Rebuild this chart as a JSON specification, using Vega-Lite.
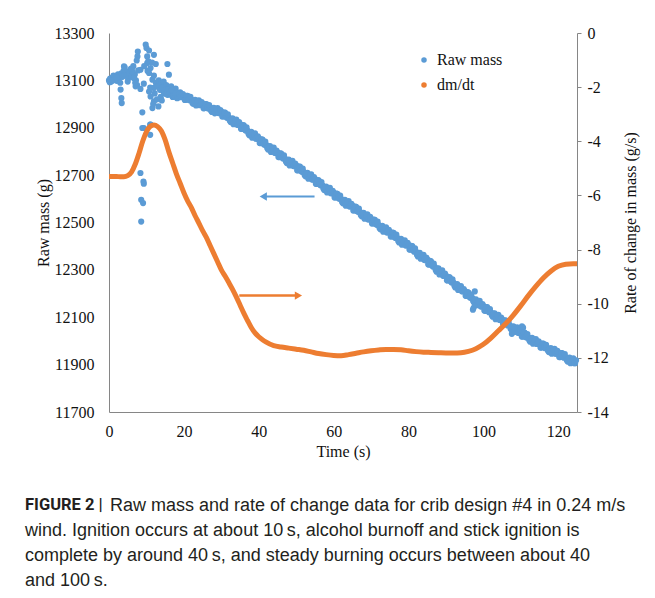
{
  "$schema": "https://vega.github.io/schema/vega-lite/v6.json",
  "width": 468,
  "height": 379,
  "autosize": {"type": "none"},
  "padding": {"left": 109, "top": 33, "right": 78, "bottom": 186},
  "background": "white",
  "config": {
    "view": {"stroke": null},
    "axis": {
      "labelFont": "Liberation Serif", "labelFontSize": 16, "labelColor": "#111",
      "titleFont": "Liberation Serif", "titleFontSize": 16, "titleFontWeight": "normal", "titleColor": "#111",
      "domainColor": "#868686", "tickColor": "#868686", "grid": false
    }
  },
  "title": {
    "text": "FIGURE 2 |",
    "subtitle": [
      "\u200b\u00a0\u00a0\u00a0\u00a0\u00a0\u00a0\u00a0\u00a0\u00a0\u00a0\u00a0\u00a0\u00a0\u00a0\u00a0\u00a0\u00a0Raw mass and rate of change data for crib design #4 in 0.24 m/s",
      "wind. Ignition occurs at about 10\u2009s, alcohol burnoff and stick ignition is",
      "complete by around 40\u2009s, and steady burning occurs between about 40",
      "and 100\u2009s."
    ],
    "orient": "bottom", "anchor": "start", "frame": "group", "dx": -84, "offset": 38,
    "font": "Roboto", "fontSize": 16.5, "fontWeight": "bold", "color": "#231f20",
    "subtitleFont": "Liberation Sans", "subtitleFontSize": 18, "subtitleFontWeight": "normal",
    "subtitleColor": "#231f20", "subtitleLineHeight": 25, "subtitlePadding": -17
  },
  "datasets": {
    "mass": [
      {"t":0,"m":13100},{"t":0.3,"m":13108},{"t":0.6,"m":13095},{"t":0.9,"m":13112},{"t":1.2,"m":13120},{"t":1.5,"m":13105},{"t":1.8,"m":13117},{"t":2.1,"m":13098},{"t":2.4,"m":13125},{"t":2.7,"m":13110},{"t":3.0,"m":13090},{"t":3.3,"m":13130},{"t":3.6,"m":13115},{"t":3.9,"m":13140},{"t":4.2,"m":13155},{"t":4.5,"m":13138},{"t":4.8,"m":13122},{"t":5.1,"m":13108},{"t":5.4,"m":13128},{"t":5.7,"m":13145},{"t":6.0,"m":13118},{"t":6.3,"m":13135},{"t":6.6,"m":13110},{"t":6.9,"m":13125},{"t":7.2,"m":13100},{"t":7.5,"m":13080},{"t":7.8,"m":13142},
      {"t":0.2,"m":13092},{"t":1.0,"m":13100},{"t":2.0,"m":13112},{"t":3.1,"m":13061},{"t":3.3,"m":13025},{"t":3.4,"m":13004},{"t":4.0,"m":13159},{"t":6.2,"m":13138},{"t":6.7,"m":13110},{"t":7.1,"m":13075},{"t":8.4,"m":13064},{"t":5.0,"m":13095},
      {"t":9.8,"m":13251},{"t":10.0,"m":13237},{"t":7.7,"m":13222},{"t":10.7,"m":13226},{"t":12.0,"m":13208},{"t":7.6,"m":13201},{"t":10.2,"m":13201},{"t":7.4,"m":13184},{"t":15.6,"m":13169},{"t":12.5,"m":13169},{"t":10.2,"m":13173},{"t":11.1,"m":13152},{"t":8.4,"m":13145},{"t":10.7,"m":13131},{"t":16.0,"m":13124},{"t":11.6,"m":13103},{"t":9.3,"m":13086},{"t":12.9,"m":13082},{"t":12.0,"m":13068},{"t":10.7,"m":13053},{"t":13.8,"m":13061},{"t":14.7,"m":13047},{"t":11.1,"m":13032},{"t":15.6,"m":13039},{"t":12.0,"m":13011},{"t":11.6,"m":12983},{"t":13.8,"m":13025},{"t":8.9,"m":12965},{"t":9.3,"m":12899},{"t":11.0,"m":12913},{"t":8.9,"m":12899},{"t":11.1,"m":12913},{"t":11.0,"m":12870},
      {"t":8.4,"m":12709},{"t":9.2,"m":12673},{"t":9.3,"m":12664},{"t":8.6,"m":12596},{"t":9.1,"m":12582},{"t":8.6,"m":12504},
      {"t":12.5,"m":13090},{"t":13.0,"m":13075},{"t":13.3,"m":13100},{"t":13.6,"m":13060},{"t":14.0,"m":13085},{"t":14.3,"m":13070},{"t":14.6,"m":13095},{"t":14.9,"m":13050},{"t":15.3,"m":13080},{"t":15.8,"m":13070},{"t":16.2,"m":13040},{"t":16.6,"m":13075},{"t":17.2,"m":13060},{"t":17.8,"m":13065},{"t":18.2,"m":13025},{"t":12.2,"m":13045},{"t":13.8,"m":13030},{"t":12.8,"m":13020},{"t":11.8,"m":13000},{"t":13.2,"m":12990},{"t":14.1,"m":13015},{"t":17.0,"m":13030},{"t":10.5,"m":13180},{"t":11.5,"m":13175},{"t":9.4,"m":13160},{"t":10.3,"m":13140},{"t":6.5,"m":13160},{"t":5.9,"m":13150},{"t":7.0,"m":13090},{"t":11,"m":13070},{"t":12,"m":13120},
      {"t":15.0,"m":13061},{"t":15.5,"m":13044},{"t":16.0,"m":13062},{"t":16.5,"m":13044},{"t":17.0,"m":13047},{"t":17.5,"m":13031},{"t":18.0,"m":13049},{"t":18.5,"m":13032},{"t":19.0,"m":13049},{"t":19.5,"m":13030},
      {"t":20.0,"m":13036},{"t":20.5,"m":13018},{"t":21.0,"m":13035},{"t":21.5,"m":13016},{"t":22.0,"m":13018},{"t":22.5,"m":13001},{"t":23.0,"m":13018},{"t":23.5,"m":13000},{"t":24.0,"m":13016},{"t":24.5,"m":12996},
      {"t":25.0,"m":13001},{"t":25.5,"m":12983},{"t":26.0,"m":13000},{"t":26.5,"m":12981},{"t":27.0,"m":12984},{"t":27.5,"m":12967},{"t":28.0,"m":12984},{"t":28.5,"m":12966},{"t":29.0,"m":12983},{"t":29.5,"m":12962},
      {"t":30.0,"m":12968},{"t":30.5,"m":12948},{"t":31.0,"m":12964},{"t":31.5,"m":12942},{"t":32.0,"m":12943},{"t":32.5,"m":12924},{"t":33.0,"m":12940},{"t":33.5,"m":12920},{"t":34.0,"m":12934},{"t":34.5,"m":12912},
      {"t":35.0,"m":12916},{"t":35.5,"m":12895},{"t":36.0,"m":12910},{"t":36.5,"m":12888},{"t":37.0,"m":12888},{"t":37.5,"m":12868},{"t":38.0,"m":12883},{"t":38.5,"m":12862},{"t":39.0,"m":12876},{"t":39.5,"m":12853},
      {"t":40.0,"m":12856},{"t":40.5,"m":12835},{"t":41.0,"m":12850},{"t":41.5,"m":12828},{"t":42.0,"m":12828},{"t":42.5,"m":12808},{"t":43.0,"m":12823},{"t":43.5,"m":12802},{"t":44.0,"m":12816},{"t":44.5,"m":12793},
      {"t":45.0,"m":12796},{"t":45.5,"m":12776},{"t":46.0,"m":12791},{"t":46.5,"m":12770},{"t":47.0,"m":12770},{"t":47.5,"m":12751},{"t":48.0,"m":12766},{"t":48.5,"m":12746},{"t":49.0,"m":12760},{"t":49.5,"m":12738},
      {"t":50.0,"m":12741},{"t":50.5,"m":12720},{"t":51.0,"m":12736},{"t":51.5,"m":12714},{"t":52.0,"m":12714},{"t":52.5,"m":12695},{"t":53.0,"m":12710},{"t":53.5,"m":12689},{"t":54.0,"m":12703},{"t":54.5,"m":12681},
      {"t":55.0,"m":12684},{"t":55.5,"m":12663},{"t":56.0,"m":12678},{"t":56.5,"m":12657},{"t":57.0,"m":12657},{"t":57.5,"m":12637},{"t":58.0,"m":12652},{"t":58.5,"m":12631},{"t":59.0,"m":12646},{"t":59.5,"m":12623},
      {"t":60.0,"m":12626},{"t":60.5,"m":12606},{"t":61.0,"m":12621},{"t":61.5,"m":12600},{"t":62.0,"m":12600},{"t":62.5,"m":12581},{"t":63.0,"m":12596},{"t":63.5,"m":12576},{"t":64.0,"m":12590},{"t":64.5,"m":12568},
      {"t":65.0,"m":12571},{"t":65.5,"m":12551},{"t":66.0,"m":12566},{"t":66.5,"m":12545},{"t":67.0,"m":12545},{"t":67.5,"m":12526},{"t":68.0,"m":12541},{"t":68.5,"m":12521},{"t":69.0,"m":12535},{"t":69.5,"m":12513},
      {"t":70.0,"m":12516},{"t":70.5,"m":12496},{"t":71.0,"m":12511},{"t":71.5,"m":12490},{"t":72.0,"m":12490},{"t":72.5,"m":12471},{"t":73.0,"m":12486},{"t":73.5,"m":12466},{"t":74.0,"m":12480},{"t":74.5,"m":12458},
      {"t":75.0,"m":12461},{"t":75.5,"m":12441},{"t":76.0,"m":12456},{"t":76.5,"m":12435},{"t":77.0,"m":12435},{"t":77.5,"m":12416},{"t":78.0,"m":12431},{"t":78.5,"m":12411},{"t":79.0,"m":12425},{"t":79.5,"m":12403},
      {"t":80.0,"m":12406},{"t":80.5,"m":12385},{"t":81.0,"m":12400},{"t":81.5,"m":12377},{"t":82.0,"m":12377},{"t":82.5,"m":12357},{"t":83.0,"m":12372},{"t":83.5,"m":12351},{"t":84.0,"m":12364},{"t":84.5,"m":12341},
      {"t":85.0,"m":12344},{"t":85.5,"m":12322},{"t":86.0,"m":12336},{"t":86.5,"m":12314},{"t":87.0,"m":12313},{"t":87.5,"m":12292},{"t":88.0,"m":12306},{"t":88.5,"m":12284},{"t":89.0,"m":12298},{"t":89.5,"m":12274},
      {"t":90.0,"m":12276},{"t":90.5,"m":12255},{"t":91.0,"m":12269},{"t":91.5,"m":12247},{"t":92.0,"m":12246},{"t":92.5,"m":12226},{"t":93.0,"m":12240},{"t":93.5,"m":12219},{"t":94.0,"m":12232},{"t":94.5,"m":12209},
      {"t":95.0,"m":12211},{"t":95.5,"m":12190},{"t":96.0,"m":12204},{"t":96.5,"m":12182},{"t":97.0,"m":12182},{"t":97.5,"m":12162},{"t":98.0,"m":12176},{"t":98.5,"m":12155},{"t":99.0,"m":12169},{"t":99.5,"m":12145},
      {"t":100.0,"m":12148},{"t":100.5,"m":12127},{"t":101.0,"m":12143},{"t":101.5,"m":12121},{"t":102.0,"m":12121},{"t":102.5,"m":12102},{"t":103.0,"m":12117},{"t":103.5,"m":12096},{"t":104.0,"m":12110},{"t":104.5,"m":12088},
      {"t":105.0,"m":12091},{"t":105.5,"m":12071},{"t":106.0,"m":12086},{"t":106.5,"m":12065},{"t":107.0,"m":12066},{"t":107.5,"m":12047},{"t":108.0,"m":12062},{"t":108.5,"m":12042},{"t":109.0,"m":12057},{"t":109.5,"m":12034},
      {"t":110.0,"m":12038},{"t":110.5,"m":12018},{"t":111.0,"m":12035},{"t":111.5,"m":12014},{"t":112.0,"m":12015},{"t":112.5,"m":11997},{"t":113.0,"m":12013},{"t":113.5,"m":11993},{"t":114.0,"m":12008},{"t":114.5,"m":11987},
      {"t":115.0,"m":11991},{"t":115.5,"m":11972},{"t":116.0,"m":11989},{"t":116.5,"m":11969},{"t":117.0,"m":11971},{"t":117.5,"m":11953},{"t":118.0,"m":11970},{"t":118.5,"m":11951},{"t":119.0,"m":11967},{"t":119.5,"m":11946},
      {"t":120.0,"m":11951},{"t":120.5,"m":11932},{"t":121.0,"m":11949},{"t":121.5,"m":11929},{"t":122.0,"m":11931},{"t":122.5,"m":11913},{"t":123.0,"m":11930},{"t":123.5,"m":11911},{"t":124.0,"m":11927},{"t":124.5,"m":11906},
      {"t":97.2,"m":12132},{"t":97.4,"m":12140},{"t":97.7,"m":12209},{"t":107.6,"m":12030},{"t":110.3,"m":12062},{"t":110.6,"m":12056},
      {"t":15.25,"m":13043},{"t":15.75,"m":13061},{"t":16.25,"m":13047},{"t":16.75,"m":13059},{"t":17.25,"m":13036},{"t":17.75,"m":13045},{"t":18.25,"m":13026},{"t":18.75,"m":13043},{"t":19.25,"m":13029},{"t":19.75,"m":13042},
      {"t":20.25,"m":13017},{"t":20.75,"m":13035},{"t":21.25,"m":13019},{"t":21.75,"m":13031},{"t":22.25,"m":13006},{"t":22.75,"m":13015},{"t":23.25,"m":12994},{"t":23.75,"m":13011},{"t":24.25,"m":12995},{"t":24.75,"m":13008},
      {"t":25.25,"m":12982},{"t":25.75,"m":13000},{"t":26.25,"m":12985},{"t":26.75,"m":12996},{"t":27.25,"m":12972},{"t":27.75,"m":12981},{"t":28.25,"m":12961},{"t":28.75,"m":12977},{"t":29.25,"m":12962},{"t":29.75,"m":12975},
      {"t":30.25,"m":12948},{"t":30.75,"m":12964},{"t":31.25,"m":12947},{"t":31.75,"m":12957},{"t":32.25,"m":12931},{"t":32.75,"m":12937},{"t":33.25,"m":12915},{"t":33.75,"m":12930},{"t":34.25,"m":12913},{"t":34.75,"m":12924},
      {"t":35.25,"m":12896},{"t":35.75,"m":12911},{"t":36.25,"m":12893},{"t":36.75,"m":12902},{"t":37.25,"m":12875},{"t":37.75,"m":12881},{"t":38.25,"m":12858},{"t":38.75,"m":12872},{"t":39.25,"m":12854},{"t":39.75,"m":12864},
      {"t":40.25,"m":12836},{"t":40.75,"m":12851},{"t":41.25,"m":12833},{"t":41.75,"m":12842},{"t":42.25,"m":12815},{"t":42.75,"m":12821},{"t":43.25,"m":12798},{"t":43.75,"m":12812},{"t":44.25,"m":12794},{"t":44.75,"m":12804},
      {"t":45.25,"m":12776},{"t":45.75,"m":12792},{"t":46.25,"m":12774},{"t":46.75,"m":12784},{"t":47.25,"m":12757},{"t":47.75,"m":12764},{"t":48.25,"m":12741},{"t":48.75,"m":12756},{"t":49.25,"m":12738},{"t":49.75,"m":12749},
      {"t":50.25,"m":12721},{"t":50.75,"m":12736},{"t":51.25,"m":12719},{"t":51.75,"m":12728},{"t":52.25,"m":12701},{"t":52.75,"m":12708},{"t":53.25,"m":12685},{"t":53.75,"m":12699},{"t":54.25,"m":12682},{"t":54.75,"m":12692},
      {"t":55.25,"m":12664},{"t":55.75,"m":12679},{"t":56.25,"m":12662},{"t":56.75,"m":12671},{"t":57.25,"m":12644},{"t":57.75,"m":12650},{"t":58.25,"m":12627},{"t":58.75,"m":12642},{"t":59.25,"m":12624},{"t":59.75,"m":12634},
      {"t":60.25,"m":12606},{"t":60.75,"m":12622},{"t":61.25,"m":12604},{"t":61.75,"m":12614},{"t":62.25,"m":12587},{"t":62.75,"m":12594},{"t":63.25,"m":12571},{"t":63.75,"m":12586},{"t":64.25,"m":12568},{"t":64.75,"m":12579},
      {"t":65.25,"m":12551},{"t":65.75,"m":12567},{"t":66.25,"m":12549},{"t":66.75,"m":12559},{"t":67.25,"m":12532},{"t":67.75,"m":12539},{"t":68.25,"m":12516},{"t":68.75,"m":12531},{"t":69.25,"m":12513},{"t":69.75,"m":12524},
      {"t":70.25,"m":12496},{"t":70.75,"m":12512},{"t":71.25,"m":12494},{"t":71.75,"m":12504},{"t":72.25,"m":12477},{"t":72.75,"m":12484},{"t":73.25,"m":12461},{"t":73.75,"m":12476},{"t":74.25,"m":12458},{"t":74.75,"m":12469},
      {"t":75.25,"m":12441},{"t":75.75,"m":12457},{"t":76.25,"m":12439},{"t":76.75,"m":12449},{"t":77.25,"m":12422},{"t":77.75,"m":12429},{"t":78.25,"m":12406},{"t":78.75,"m":12421},{"t":79.25,"m":12403},{"t":79.75,"m":12414},
      {"t":80.25,"m":12386},{"t":80.75,"m":12401},{"t":81.25,"m":12383},{"t":81.75,"m":12391},{"t":82.25,"m":12364},{"t":82.75,"m":12370},{"t":83.25,"m":12347},{"t":83.75,"m":12361},{"t":84.25,"m":12342},{"t":84.75,"m":12352},
      {"t":85.25,"m":12324},{"t":85.75,"m":12338},{"t":86.25,"m":12319},{"t":86.75,"m":12327},{"t":87.25,"m":12299},{"t":87.75,"m":12305},{"t":88.25,"m":12281},{"t":88.75,"m":12294},{"t":89.25,"m":12275},{"t":89.75,"m":12284},
      {"t":90.25,"m":12256},{"t":90.75,"m":12270},{"t":91.25,"m":12252},{"t":91.75,"m":12260},{"t":92.25,"m":12233},{"t":92.75,"m":12238},{"t":93.25,"m":12215},{"t":93.75,"m":12228},{"t":94.25,"m":12210},{"t":94.75,"m":12219},
      {"t":95.25,"m":12191},{"t":95.75,"m":12206},{"t":96.25,"m":12187},{"t":96.75,"m":12196},{"t":97.25,"m":12169},{"t":97.75,"m":12174},{"t":98.25,"m":12151},{"t":98.75,"m":12165},{"t":99.25,"m":12146},{"t":99.75,"m":12156},
      {"t":100.25,"m":12128},{"t":100.75,"m":12143},{"t":101.25,"m":12126},{"t":101.75,"m":12135},{"t":102.25,"m":12108},{"t":102.75,"m":12115},{"t":103.25,"m":12092},{"t":103.75,"m":12106},{"t":104.25,"m":12089},{"t":104.75,"m":12099},
      {"t":105.25,"m":12071},{"t":105.75,"m":12087},{"t":106.25,"m":12070},{"t":106.75,"m":12079},{"t":107.25,"m":12053},{"t":107.75,"m":12060},{"t":108.25,"m":12038},{"t":108.75,"m":12052},{"t":109.25,"m":12035},{"t":109.75,"m":12046},
      {"t":110.25,"m":12019},{"t":110.75,"m":12035},{"t":111.25,"m":12018},{"t":111.75,"m":12029},{"t":112.25,"m":12003},{"t":112.75,"m":12010},{"t":113.25,"m":11988},{"t":113.75,"m":12004},{"t":114.25,"m":11987},{"t":114.75,"m":11998},
      {"t":115.25,"m":11972},{"t":115.75,"m":11989},{"t":116.25,"m":11973},{"t":116.75,"m":11984},{"t":117.25,"m":11959},{"t":117.75,"m":11967},{"t":118.25,"m":11946},{"t":118.75,"m":11962},{"t":119.25,"m":11946},{"t":119.75,"m":11958},
      {"t":120.25,"m":11932},{"t":120.75,"m":11949},{"t":121.25,"m":11933},{"t":121.75,"m":11944},{"t":122.25,"m":11919},{"t":122.75,"m":11927},{"t":123.25,"m":11906},{"t":123.75,"m":11922},{"t":124.25,"m":11906},{"t":124.75,"m":11918}
    ],
    "rate": [
      {"t":0,"r":-5.3},{"t":1,"r":-5.3},{"t":2,"r":-5.3},{"t":3,"r":-5.31},{"t":4,"r":-5.31},{"t":5,"r":-5.27},{"t":6,"r":-5.14},{"t":7,"r":-4.85},{"t":8,"r":-4.45},{"t":9,"r":-4.0},
      {"t":10,"r":-3.65},{"t":11,"r":-3.45},{"t":12,"r":-3.4},{"t":13,"r":-3.46},{"t":14,"r":-3.62},{"t":15,"r":-3.95},{"t":16,"r":-4.4},{"t":17,"r":-4.8},{"t":18,"r":-5.2},{"t":19,"r":-5.55},
      {"t":20,"r":-5.9},{"t":21,"r":-6.2},{"t":22,"r":-6.45},{"t":23,"r":-6.75},{"t":24,"r":-7.02},{"t":25,"r":-7.3},{"t":26,"r":-7.55},{"t":27,"r":-7.85},{"t":28,"r":-8.15},{"t":29,"r":-8.45},
      {"t":30,"r":-8.75},{"t":31,"r":-8.98},{"t":32,"r":-9.22},{"t":33,"r":-9.47},{"t":34,"r":-9.75},{"t":35,"r":-10.05},{"t":36,"r":-10.35},{"t":37,"r":-10.62},{"t":38,"r":-10.88},{"t":39,"r":-11.08},
      {"t":40,"r":-11.22},{"t":41,"r":-11.33},{"t":42,"r":-11.42},{"t":44,"r":-11.55},{"t":46,"r":-11.6},{"t":48,"r":-11.64},{"t":50,"r":-11.68},{"t":52,"r":-11.72},{"t":54,"r":-11.78},{"t":56,"r":-11.84},
      {"t":58,"r":-11.88},{"t":60,"r":-11.91},{"t":62,"r":-11.92},{"t":64,"r":-11.88},{"t":66,"r":-11.83},{"t":68,"r":-11.78},{"t":70,"r":-11.74},{"t":72,"r":-11.71},{"t":74,"r":-11.69},{"t":76,"r":-11.69},
      {"t":78,"r":-11.7},{"t":80,"r":-11.74},{"t":82,"r":-11.77},{"t":84,"r":-11.79},{"t":86,"r":-11.8},{"t":88,"r":-11.81},{"t":90,"r":-11.82},{"t":92,"r":-11.82},{"t":94,"r":-11.81},{"t":96,"r":-11.76},
      {"t":98,"r":-11.66},{"t":100,"r":-11.5},{"t":102,"r":-11.27},{"t":104,"r":-11.0},{"t":106,"r":-10.73},{"t":108,"r":-10.42},{"t":110,"r":-10.07},{"t":112,"r":-9.7},{"t":114,"r":-9.36},{"t":116,"r":-9.05},
      {"t":118,"r":-8.8},{"t":120,"r":-8.62},{"t":122,"r":-8.54},{"t":124,"r":-8.52},{"t":125,"r":-8.52}
    ],
    "blueArrow": [{"t":41.2,"t2":54.9,"m":12610}],
    "blueHead": [{"t":41.2,"m":12610}],
    "orangeArrow": [{"t":34.8,"t2":50.6,"r":-9.7}],
    "orangeHead": [{"t":50.6,"r":-9.7}]
  },
  "layer": [
    {
      "encoding": {
        "x": {"field": "t", "type": "quantitative", "scale": {"domain": [0, 125], "nice": false, "zero": false},
              "axis": {"values": [0,20,40,60,80,100,120], "ticks": false, "labelFlush": false, "labelPadding": 11, "title": "Time (s)", "titlePadding": 4, "format": "d"}},
        "y": {"field": "m", "type": "quantitative", "scale": {"domain": [11700, 13300], "nice": false, "zero": false},
              "axis": {"orient": "left", "values": [11700,11900,12100,12300,12500,12700,12900,13100,13300], "ticks": false, "labelFlush": false, "labelPadding": 15, "title": "Raw mass (g)", "titlePadding": 3, "format": "d"}}
      },
      "layer": [
        {
          "data": {"name": "mass"},
          "mark": {"type": "point", "filled": true, "size": 38, "opacity": 1},
          "encoding": {
            "color": {"datum": "Raw mass", "type": "nominal",
                      "scale": {"domain": ["Raw mass", "dm/dt"], "range": ["#5B9BD5", "#ED7D31"]},
                      "legend": {"orient": "none", "legendX": 307, "legendY": 19, "title": null, "symbolType": "circle", "symbolSize": 30,
                                 "labelFont": "Liberation Serif", "labelFontSize": 16, "labelColor": "#111", "rowPadding": 9, "labelOffset": 5, "padding": 0}}
          }
        },
        {
          "data": {"name": "blueArrow"},
          "mark": {"type": "rule", "color": "#5B9BD5", "strokeWidth": 2},
          "encoding": {"x2": {"field": "t2"}}
        },
        {
          "data": {"name": "blueHead"},
          "mark": {"type": "point", "shape": "triangle-left", "filled": true, "size": 70, "color": "#5B9BD5", "opacity": 1},
          "encoding": {}
        }
      ]
    },
    {
      "encoding": {
        "x": {"field": "t", "type": "quantitative", "scale": {"domain": [0, 125], "nice": false, "zero": false},
              "axis": {"values": [0,20,40,60,80,100,120], "ticks": false, "labelFlush": false, "labelPadding": 11, "title": "Time (s)", "titlePadding": 4, "format": "d"}},
        "y": {"field": "r", "type": "quantitative", "scale": {"domain": [-14, 0], "nice": false, "zero": false},
              "axis": {"orient": "right", "values": [0,-2,-4,-6,-8,-10,-12,-14], "tickSize": 4, "labelFlush": false, "labelPadding": 6, "labelExpr": "'' + datum.value", "title": "Rate of change in mass (g/s)", "titleAngle": 270, "titlePadding": 30}}
      },
      "layer": [
        {
          "data": {"name": "rate"},
          "mark": {"type": "line", "color": "#ED7D31", "strokeWidth": 5, "interpolate": "monotone"}
        },
        {
          "data": {"name": "orangeArrow"},
          "mark": {"type": "rule", "color": "#ED7D31", "strokeWidth": 2.5},
          "encoding": {"x2": {"field": "t2"}}
        },
        {
          "data": {"name": "orangeHead"},
          "mark": {"type": "point", "shape": "triangle-right", "filled": true, "size": 70, "color": "#ED7D31", "opacity": 1},
          "encoding": {}
        }
      ]
    }
  ],
  "resolve": {"scale": {"y": "independent"}}
}
